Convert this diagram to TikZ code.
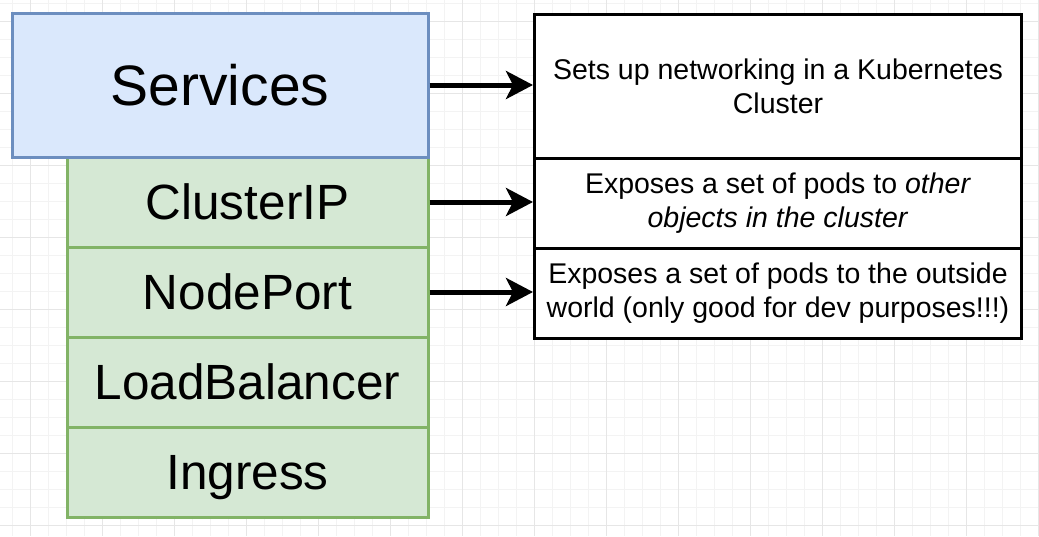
\documentclass[tikz,border=0pt]{standalone}
\usepackage{fontspec}
\setmainfont{Liberation Sans}
\usetikzlibrary{arrows.meta}
\definecolor{svcfill}{HTML}{DAE8FC}
\definecolor{svcline}{HTML}{6C8EBF}
\definecolor{typefill}{HTML}{D5E8D4}
\definecolor{typeline}{HTML}{82B366}
\definecolor{gridmin}{HTML}{F3F3F3}
\definecolor{gridmaj}{HTML}{E6E6E6}
\tikzset{
  svcbox/.style={draw=svcline, fill=svcfill, line width=3pt, rectangle, inner sep=0pt,
    minimum width=416pt, minimum height=144pt, text height=40.8pt, text depth=0pt,
    font=\fontsize{57}{66}\selectfont},
  typebox/.style={draw=typeline, fill=typefill, line width=3pt, rectangle, inner sep=0pt,
    minimum width=361pt, minimum height=90pt, text height=35.4pt, text depth=0pt,
    font=\fontsize{49.5}{58}\selectfont},
  descbox/.style={draw=black, fill=white, line width=3pt, rectangle, inner sep=0pt,
    minimum width=487pt, align=center, font=\fontsize{28.5}{34}\selectfont},
  arr/.style={line width=5pt, -{Stealth[length=27pt, width=28pt, inset=7pt]}},
  gridminor/.style={draw=gridmin, line width=1pt},
  gridmajor/.style={draw=gridmaj, line width=1.4pt}
}
\begin{document}
\begin{tikzpicture}[x=1pt, y=-1pt]
\useasboundingbox (0,0) rectangle (1039,536);
\fill[white] (0,0) rectangle (1039,536);
\begin{scope}
\clip (0,0) rectangle (1039,536);
\foreach \k in {0,...,57} { \draw[gridminor] (12.3+18*\k,0) -- (12.3+18*\k,536); }
\foreach \k in {0,...,29} { \draw[gridminor] (0,3.3+18*\k) -- (1039,3.3+18*\k); }
\foreach \k in {0,...,14} { \draw[gridmajor] (30.3+72*\k,0) -- (30.3+72*\k,536); }
\foreach \k in {0,...,7} { \draw[gridmajor] (0,21.3+72*\k) -- (1039,21.3+72*\k); }
\end{scope}

\node[typebox] (cip) at (247.5,202) {ClusterIP};
\node[typebox] (np) at (247.5,292) {NodePort};
\node[typebox] (lb) at (247.5,382) {LoadBalancer};
\node[typebox] (ing) at (247.5,472) {Ingress};
\node[svcbox] (svc) at (220,85) {Services};

\node[descbox, minimum height=144pt] (d1) at (778,86)
  {Sets up networking in a Kubernetes\\Cluster};
\node[descbox, minimum height=90pt] (d2) at (778,203)
  {Exposes a set of pods to \textit{other}\\\textit{objects in the cluster}};
\node[descbox, minimum height=90pt] (d3) at (778,293)
  {Exposes a set of pods to the outside\\world (only good for dev purposes!!!)};

\draw[arr] (svc.east) -- (d1.west |- svc.east);
\draw[arr] (cip.east) -- (d2.west |- cip.east);
\draw[arr] (np.east) -- (d3.west |- np.east);
\end{tikzpicture}
\end{document}
